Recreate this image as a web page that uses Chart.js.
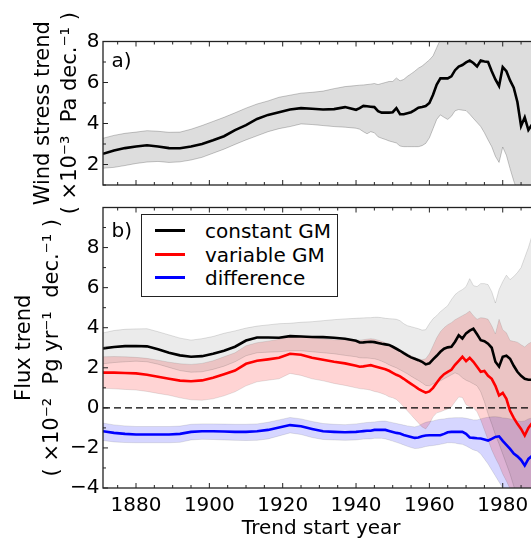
<!DOCTYPE html>
<html>
<head>
<meta charset="utf-8">
<script src="https://cdn.jsdelivr.net/npm/chart.js@4.4.1/dist/chart.umd.min.js"></script>
<style>
  html, body { margin: 0; padding: 0; background: #fff; }
  #wrap { position: relative; width: 531px; height: 539px; overflow: hidden; font-family: "DejaVu Sans", sans-serif; }
  canvas { position: absolute; left: 0; }
  #chartA { top: 0; }
  #chartB { top: 192px; }
  #legend { position: absolute; left: 141px; top: 214px; width: 197px; height: 83px; border: 1px solid #222; background: #fff; box-sizing: border-box; }
  .row { position: absolute; left: 0; height: 24px; font-size: 20px; line-height: 24px; color: #000; }
  .row i { position: absolute; left: 13px; top: 10px; width: 30px; height: 3px; }
  .row span { position: absolute; left: 63px; white-space: nowrap; }
</style>
</head>
<body>
<div id="wrap">
  <canvas id="chartA" width="545" height="215"></canvas>
  <canvas id="chartB" width="545" height="347"></canvas>
  <div id="legend">
    <div class="row" style="top:4px"><i style="background:#000"></i><span>constant GM</span></div>
    <div class="row" style="top:28px"><i style="background:#f00"></i><span>variable GM</span></div>
    <div class="row" style="top:51px"><i style="background:#00f"></i><span>difference</span></div>
  </div>
</div>
<script>
// trend start years (3-yearly up to 1940, then yearly)
const years = [1871,1874,1877,1880,1883,1886,1889,1892,1895,1898,1901,1904,1907,1910,1913,1916,1919,1922,1925,1928,1931,1934,1937,1940,
  1941,1942,1943,1944,1945,1946,1947,1948,1949,1950,
  1951,1952,1953,1954,1955,1956,1957,1958,1959,1960,
  1961,1962,1963,1964,1965,1966,1967,1968,1969,1970,
  1971,1972,1973,1974,1975,1976,1977,1978,1979,1980,
  1981,1982,1983,1984,1985,1986,1987,1988,1989];

// panel a) wind stress trend (x10^-3 Pa/dec)
const windLine = [2.52,2.68,2.8,2.88,2.94,2.88,2.8,2.79,2.88,3.0,3.18,3.38,3.68,3.92,4.22,4.42,4.55,4.68,4.75,4.72,4.68,4.7,4.8,4.67,
  4.75,4.86,4.84,4.82,4.8,4.6,4.53,4.53,4.53,4.55,
  4.75,4.45,4.45,4.5,4.55,4.65,4.77,4.8,4.85,5.0,
  5.4,5.9,6.2,6.2,6.2,6.3,6.6,6.78,6.85,6.98,
  7.07,6.95,6.78,7.07,7.02,7.0,6.55,6.15,5.83,6.75,
  6.55,6.1,5.75,5.05,3.88,4.3,3.68,3.95,3.85];
const windUp = [3.28,3.42,3.52,3.58,3.65,3.62,3.57,3.58,3.72,3.9,4.1,4.3,4.52,4.75,4.95,5.1,5.28,5.38,5.48,5.52,5.58,5.7,5.8,5.85,
  5.87,5.88,5.9,5.92,5.95,5.9,5.95,6.0,6.05,6.05,
  6.22,6.08,6.15,6.3,6.42,6.55,6.7,6.8,6.95,7.1,
  7.3,7.7,8.1,8.5,8.9,9.3,9.6,9.8,10.0,10.2,
  10.3,10.3,10.4,10.5,10.5,10.6,10.5,10.2,10.3,10.8,
  10.6,10.3,10.2,9.8,9.2,9.5,9.0,9.2,9.0];
const windLo = [1.82,1.86,1.95,2.05,2.12,2.15,2.1,2.13,2.22,2.35,2.55,2.75,2.98,3.2,3.4,3.6,3.75,3.85,3.98,3.95,3.9,3.85,3.82,3.77,
  3.72,3.6,3.5,3.6,3.55,3.35,3.28,3.22,3.15,3.1,
  3.05,2.9,2.87,2.87,2.87,2.87,2.87,2.92,3.03,3.3,
  3.75,4.2,4.42,4.3,4.2,4.35,4.62,4.68,4.65,4.63,
  4.45,4.25,4.05,3.85,3.55,3.2,2.87,2.4,2.1,2.85,
  2.45,1.8,1.2,0.7,0.2,-0.3,-0.6,-0.8,-1.0];

// panel b) flux trend (x10^-2 Pg/yr/dec)
const constLine = [2.97,3.04,3.08,3.09,3.07,2.92,2.75,2.62,2.55,2.58,2.7,2.85,3.05,3.36,3.51,3.51,3.5,3.58,3.56,3.54,3.53,3.5,3.45,3.35,
  3.26,3.27,3.29,3.3,3.28,3.24,3.2,3.17,3.14,3.05,
  2.95,2.85,2.73,2.62,2.52,2.45,2.38,2.3,2.17,2.22,
  2.42,2.6,2.8,2.95,3.02,3.05,3.3,3.62,3.46,3.72,
  3.85,3.95,3.67,3.38,3.33,3.2,3.0,2.3,2.06,2.55,
  2.6,2.45,2.1,1.8,1.6,1.45,1.4,1.4,1.38];
const constUp = [3.74,3.86,3.92,3.94,3.95,3.8,3.64,3.48,3.38,3.45,3.56,3.72,3.84,3.98,4.08,4.14,4.2,4.22,4.27,4.3,4.35,4.4,4.44,4.47,
  4.48,4.49,4.5,4.5,4.52,4.52,4.5,4.47,4.45,4.44,
  4.42,4.35,4.2,4.1,4.05,4.0,3.95,3.88,3.9,4.2,
  4.45,4.6,4.8,4.95,5.1,5.4,5.65,5.8,5.9,6.05,
  6.45,6.1,6.05,6.2,6.2,6.15,5.8,5.23,5.9,6.3,
  6.62,6.4,6.55,6.75,7.0,7.5,8.0,8.6,9.0];
const constLo = [2.2,2.26,2.3,2.33,2.3,2.18,2.02,1.86,1.78,1.8,1.92,2.08,2.3,2.6,2.75,2.78,2.8,2.85,2.85,2.8,2.75,2.7,2.62,2.55,
  2.5,2.49,2.49,2.47,2.45,2.4,2.33,2.25,2.15,2.07,
  2.0,1.9,1.8,1.7,1.58,1.47,1.37,1.25,1.12,1.1,
  1.2,1.3,1.35,1.45,1.55,1.65,1.75,1.67,1.5,1.38,
  1.3,1.2,1.1,0.8,0.3,-0.3,-0.8,-1.35,-1.8,-2.3,
  -2.8,-3.3,-3.9,-4.5,-5.0,-5.5,-6.0,-6.3,-6.5];

const varLine = [1.76,1.76,1.74,1.72,1.65,1.55,1.45,1.36,1.33,1.37,1.5,1.68,1.86,2.2,2.35,2.42,2.5,2.7,2.65,2.5,2.4,2.3,2.22,2.1,
  2.05,2.07,2.1,2.13,2.08,2.03,1.98,1.93,1.85,1.75,
  1.65,1.57,1.45,1.32,1.2,1.08,0.95,0.85,0.76,0.82,
  1.0,1.25,1.5,1.68,1.8,1.9,2.15,2.35,2.55,2.33,
  2.5,2.3,2.05,1.8,1.84,1.6,1.45,1.1,0.62,0.75,
  0.45,-0.15,-0.5,-0.8,-1.05,-1.38,-1.0,-0.75,-0.65];
const varUp = [2.55,2.56,2.55,2.52,2.47,2.38,2.28,2.2,2.17,2.22,2.35,2.55,2.75,3.1,3.25,3.33,3.42,3.62,3.6,3.5,3.45,3.4,3.4,3.38,
  3.38,3.4,3.43,3.45,3.43,3.38,3.32,3.25,3.18,3.1,
  3.0,2.9,2.8,2.7,2.6,2.52,2.45,2.4,2.45,2.7,
  3.1,3.5,3.8,4.0,4.15,4.25,4.4,4.5,4.6,4.7,
  4.83,4.6,4.42,4.5,4.48,4.42,4.1,3.69,4.42,3.9,
  3.75,3.36,3.32,3.28,3.15,3.04,3.2,3.3,3.4];
const varLo = [0.98,0.95,0.92,0.89,0.82,0.72,0.63,0.5,0.4,0.38,0.45,0.6,0.8,1.1,1.3,1.38,1.45,1.72,1.62,1.45,1.35,1.22,1.12,1.0,
  0.96,0.94,0.92,0.88,0.82,0.78,0.72,0.65,0.55,0.5,
  0.42,0.25,0.05,-0.15,-0.35,-0.55,-0.75,-0.95,-1.05,-0.8,
  -0.45,-0.25,-0.2,-0.12,-0.05,0.05,0.3,0.54,0.52,0.15,
  0.05,0.0,-0.2,-0.6,-1.1,-1.6,-2.1,-2.5,-2.85,-3.3,
  -3.65,-4.05,-4.5,-5.0,-5.5,-6.0,-6.3,-6.5,-6.7];

const diffLine = [-1.17,-1.25,-1.3,-1.33,-1.33,-1.33,-1.33,-1.3,-1.2,-1.17,-1.17,-1.18,-1.2,-1.2,-1.17,-1.1,-0.98,-0.86,-0.92,-1.05,-1.17,-1.2,-1.22,-1.2,
  -1.18,-1.16,-1.14,-1.14,-1.1,-1.1,-1.09,-1.1,-1.15,-1.2,
  -1.25,-1.28,-1.35,-1.4,-1.45,-1.5,-1.48,-1.42,-1.38,-1.37,
  -1.37,-1.37,-1.37,-1.3,-1.22,-1.2,-1.2,-1.2,-1.2,-1.3,
  -1.48,-1.5,-1.52,-1.53,-1.58,-1.63,-1.55,-1.45,-1.42,-1.65,
  -1.85,-2.05,-2.28,-2.42,-2.6,-2.88,-2.55,-2.4,-2.3];
const diffUp = [-0.76,-0.85,-0.9,-0.93,-0.93,-0.93,-0.93,-0.91,-0.82,-0.8,-0.8,-0.81,-0.82,-0.82,-0.8,-0.72,-0.6,-0.48,-0.55,-0.68,-0.78,-0.82,-0.84,-0.8,
  -0.78,-0.75,-0.73,-0.72,-0.7,-0.68,-0.66,-0.66,-0.7,-0.74,
  -0.78,-0.82,-0.86,-0.9,-0.93,-0.95,-0.9,-0.8,-0.72,-0.68,
  -0.65,-0.6,-0.57,-0.55,-0.52,-0.5,-0.49,-0.49,-0.49,-0.52,
  -0.56,-0.6,-0.6,-0.55,-0.5,-0.47,-0.45,-0.44,-0.46,-0.5,
  -0.52,-0.55,-0.6,-0.65,-0.68,-0.65,-0.55,-0.5,-0.45];
const diffLo = [-1.63,-1.7,-1.73,-1.74,-1.74,-1.74,-1.74,-1.72,-1.6,-1.57,-1.58,-1.6,-1.62,-1.63,-1.62,-1.55,-1.4,-1.25,-1.33,-1.48,-1.58,-1.6,-1.62,-1.6,
  -1.58,-1.56,-1.55,-1.55,-1.52,-1.52,-1.52,-1.55,-1.6,-1.66,
  -1.72,-1.78,-1.85,-1.92,-1.98,-2.03,-2.02,-1.98,-1.93,-1.9,
  -1.88,-1.85,-1.82,-1.78,-1.74,-1.74,-1.76,-1.8,-1.82,-1.9,
  -2.0,-2.1,-2.15,-2.3,-2.55,-2.8,-3.1,-3.4,-3.7,-4.0,
  -4.4,-4.8,-5.2,-5.5,-5.8,-6.0,-6.0,-6.0,-6.0];

const FONT = 'DejaVu Sans';

function pts(vals) {
  return years.map((yr, i) => ({ x: yr, y: vals[i] }));
}

function line(vals, color) {
  return { data: pts(vals), borderColor: color, borderWidth: 2.6, fill: false };
}

// upper edge fills down to the lower edge (next dataset)
function band(up, lo, fillColor, edgeColor) {
  return [
    { data: pts(up), fill: '+1', backgroundColor: fillColor, borderColor: edgeColor, borderWidth: 1 },
    { data: pts(lo), fill: false, borderColor: edgeColor, borderWidth: 1 }
  ];
}

function minus(v) {
  return String(v).replace('-', '\u2212');
}

// box round the axes, inward ticks, zero line and panel letter
const frame = {
  id: 'frame',
  afterDatasetsDraw(chart, args, o) {
    const ctx = chart.ctx;
    const a = chart.chartArea;
    const x = chart.scales.x, y = chart.scales.y;
    ctx.save();
    if (o.zero) {
      const py = y.getPixelForValue(0);
      ctx.strokeStyle = '#000';
      ctx.lineWidth = 1.3;
      ctx.setLineDash([7, 4]);
      ctx.beginPath();
      ctx.moveTo(a.left, py);
      ctx.lineTo(a.right, py);
      ctx.stroke();
      ctx.setLineDash([]);
    }
    ctx.strokeStyle = '#222';
    ctx.lineWidth = 1.3;
    ctx.strokeRect(a.left, a.top, a.right - a.left, a.bottom - a.top);
    ctx.lineWidth = 1;
    ctx.beginPath();
    for (let v = Math.ceil(x.min / 5) * 5; v <= x.max; v += 5) {
      const px = x.getPixelForValue(v);
      const len = v % 20 === 0 ? 5 : 3;
      ctx.moveTo(px, a.bottom); ctx.lineTo(px, a.bottom - len);
      ctx.moveTo(px, a.top); ctx.lineTo(px, a.top + len);
    }
    for (let v = Math.ceil(y.min); v <= y.max; v += 1) {
      const py = y.getPixelForValue(v);
      const len = v % 2 === 0 ? 5 : 3;
      ctx.moveTo(a.left, py); ctx.lineTo(a.left + len, py);
      ctx.moveTo(a.right, py); ctx.lineTo(a.right - len, py);
    }
    ctx.stroke();
    ctx.fillStyle = '#000';
    ctx.font = '20px "' + FONT + '"';
    ctx.textAlign = 'left';
    ctx.textBaseline = 'middle';
    ctx.fillText(o.label, a.left + 8.5, a.top + o.labelDy);
    ctx.restore();
  }
};

function yScale(min, max, title, titlePad, hideTop) {
  return {
    min: min, max: max,
    grid: { display: false, drawTicks: false },
    border: { display: false },
    ticks: {
      stepSize: 2, includeBounds: false, padding: 3.5, color: '#000',
      font: { family: FONT, size: 20 },
      callback: (v) => (hideTop && v === max) ? null : minus(v)
    },
    title: {
      display: true, text: title, color: '#000',
      font: { family: FONT, size: 21, lineHeight: 1.3 },
      padding: { top: titlePad, bottom: 0 }
    },
    afterFit(s) { s.width = 103; }
  };
}

const common = {
  responsive: false,
  animation: false,
  devicePixelRatio: 1,
  elements: { point: { radius: 0 }, line: { tension: 0 } },
};

new Chart(document.getElementById('chartA'), {
  type: 'line',
  data: {
    datasets: [
      line(windLine, '#000'),
      ...band(windUp, windLo, 'rgba(0,0,0,0.135)', 'rgba(0,0,0,0.22)')
    ]
  },
  options: Object.assign({}, common, {
    layout: { padding: { top: 41.5, right: 5.6, bottom: 30, left: 0 } },
    plugins: {
      legend: { display: false }, tooltip: { enabled: false },
      filler: { drawTime: 'beforeDatasetsDraw' },
      frame: { label: 'a)', labelDy: 20.5, zero: false }
    },
    scales: {
      x: { type: 'linear', min: 1871, max: 1990, display: false },
      y: yScale(1, 8, ['Wind stress trend', '( \u00d710\u207b\u00b3  Pa dec.\u207b\u00b9 )'], 29.5, false)
    }
  }),
  plugins: [frame]
});

new Chart(document.getElementById('chartB'), {
  type: 'line',
  data: {
    datasets: [
      line(constLine, '#000'),
      line(varLine, '#ff0000'),
      line(diffLine, '#0000ff'),
      ...band(constUp, constLo, 'rgba(0,0,0,0.08)', 'rgba(0,0,0,0.13)'),
      ...band(varUp, varLo, 'rgba(255,0,0,0.17)', 'rgba(0,0,0,0.1)'),
      ...band(diffUp, diffLo, 'rgba(0,0,255,0.16)', 'rgba(0,0,0,0.1)')
    ]
  },
  options: Object.assign({}, common, {
    layout: { padding: { top: 8.5, right: 5.6, bottom: 0, left: 0 } },
    plugins: {
      legend: { display: false }, tooltip: { enabled: false },
      filler: { drawTime: 'beforeDatasetsDraw' },
      frame: { label: 'b)', labelDy: 24.5, zero: true }
    },
    scales: {
      x: {
        type: 'linear', min: 1871, max: 1990,
        grid: { display: false, drawTicks: false },
        border: { display: false },
        ticks: {
          stepSize: 20, includeBounds: false, padding: 5.5, color: '#000',
          autoSkip: false, maxRotation: 0,
          font: { family: FONT, size: 20 },
          callback: (v) => String(v)
        },
        title: {
          display: true, text: 'Trend start year', color: '#000',
          font: { family: FONT, size: 20, lineHeight: 1 },
          padding: { top: 0, bottom: 0 }
        },
        afterFit(s) { s.height = 51; }
      },
      y: yScale(-4, 10, ['Flux trend', '( \u00d710\u207b\u00b2  Pg yr\u207b\u00b9  dec.\u207b\u00b9 )'], 11.3, true)
    }
  }),
  plugins: [frame]
});
</script>
</body>
</html>
